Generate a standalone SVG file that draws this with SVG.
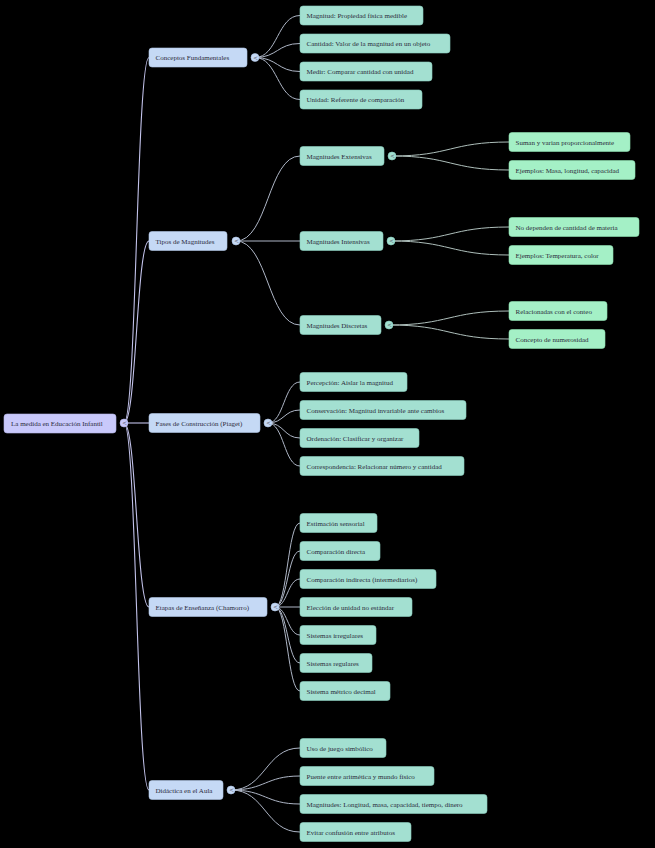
<svg xmlns="http://www.w3.org/2000/svg" width="655" height="848" viewBox="0 0 655 848">
<style>
text{font-family:"Liberation Serif","Times New Roman",serif;font-size:7px;fill:#2b2b3b}
.r0{fill:#c9c9fb;stroke:#b5b5e8;stroke-width:0.6}
.r1{fill:#c5d9f5;stroke:#b0c6e6;stroke-width:0.6}
.r2{fill:#a3e0d1;stroke:#8ccfbf;stroke-width:0.6}
.r3{fill:#a4f0c6;stroke:#8ee0b0;stroke-width:0.6}
.l0{fill:none;stroke:#c2c2ea;stroke-width:1.1}
.l1{fill:none;stroke:#aeb6c6;stroke-width:1}
.l2{fill:none;stroke:#aebfbb;stroke-width:1}
.b text{font-size:6px;fill:#556;font-family:"DejaVu Sans",sans-serif}
</style>
<rect width="655" height="848" fill="#000"/>
<g id="connectors">
<path class="l0" d="M124 423 C136.5 423 136.5 57.5 149 57.5"/>
<path class="l0" d="M124 423 C136.5 423 136.5 241 149 241"/>
<path class="l0" d="M124 423 L149 423"/>
<path class="l0" d="M124 423 C136.5 423 136.5 607 149 607"/>
<path class="l0" d="M124 423 C136.5 423 136.5 790 149 790"/>
<path class="l1" d="M255 57.5 C277.5 57.5 277.5 15.5 300 15.5"/>
<path class="l1" d="M255 57.5 C277.5 57.5 277.5 43.5 300 43.5"/>
<path class="l1" d="M255 57.5 C277.5 57.5 277.5 71.5 300 71.5"/>
<path class="l1" d="M255 57.5 C277.5 57.5 277.5 99.5 300 99.5"/>
<path class="l1" d="M236 241 C268 241 268 156 300 156"/>
<path class="l1" d="M236 241 L300 241"/>
<path class="l1" d="M236 241 C268 241 268 325 300 325"/>
<path class="l2" d="M392 156 C450.5 156 450.5 142 509 142"/>
<path class="l2" d="M392 156 C450.5 156 450.5 170 509 170"/>
<path class="l2" d="M391 241 C450 241 450 227 509 227"/>
<path class="l2" d="M391 241 C450 241 450 255 509 255"/>
<path class="l2" d="M389 325 C449 325 449 311 509 311"/>
<path class="l2" d="M389 325 C449 325 449 339 509 339"/>
<path class="l1" d="M268 423 C284 423 284 382 300 382"/>
<path class="l1" d="M268 423 C284 423 284 410 300 410"/>
<path class="l1" d="M268 423 C284 423 284 438 300 438"/>
<path class="l1" d="M268 423 C284 423 284 466 300 466"/>
<path class="l1" d="M275 607 C287.5 607 287.5 523 300 523"/>
<path class="l1" d="M275 607 C287.5 607 287.5 551 300 551"/>
<path class="l1" d="M275 607 C287.5 607 287.5 579 300 579"/>
<path class="l1" d="M275 607 L300 607"/>
<path class="l1" d="M275 607 C287.5 607 287.5 635 300 635"/>
<path class="l1" d="M275 607 C287.5 607 287.5 663 300 663"/>
<path class="l1" d="M275 607 C287.5 607 287.5 691 300 691"/>
<path class="l1" d="M231 790 C265.5 790 265.5 748 300 748"/>
<path class="l1" d="M231 790 C265.5 790 265.5 776 300 776"/>
<path class="l1" d="M231 790 C265.5 790 265.5 804 300 804"/>
<path class="l1" d="M231 790 C265.5 790 265.5 832 300 832"/>
</g>
<g id="buttons" class="b">
<circle cx="124" cy="423" r="4" class="r0"/><text x="122" y="425.2">&lt;</text>
<circle cx="255" cy="57.5" r="4" class="r1"/><text x="253" y="59.7">&lt;</text>
<circle cx="236" cy="241" r="4" class="r1"/><text x="234" y="243.2">&lt;</text>
<circle cx="268" cy="423" r="4" class="r1"/><text x="266" y="425.2">&lt;</text>
<circle cx="275" cy="607" r="4" class="r1"/><text x="273" y="609.2">&lt;</text>
<circle cx="231" cy="790" r="4" class="r1"/><text x="229" y="792.2">&lt;</text>
<circle cx="392" cy="156" r="4" class="r2"/><text x="390" y="158.2">&lt;</text>
<circle cx="391" cy="241" r="4" class="r2"/><text x="389" y="243.2">&lt;</text>
<circle cx="389" cy="325" r="4" class="r2"/><text x="387" y="327.2">&lt;</text>
</g>
<g id="root"><rect class="r0" x="4" y="414" width="112" height="19" rx="3"/><text x="11" y="425.5">La medida en Educación Infantil</text></g>
<g id="n-conceptos"><rect class="r1" x="149" y="48" width="98" height="19" rx="3"/><text x="155.5" y="60">Conceptos Fundamentales</text></g>
<g id="n-tipos"><rect class="r1" x="149" y="231.5" width="78" height="19" rx="3"/><text x="155.5" y="243.5">Tipos de Magnitudes</text></g>
<g id="n-fases"><rect class="r1" x="149" y="413.5" width="111" height="19" rx="3"/><text x="155.5" y="425.5">Fases de Construcción (Piaget)</text></g>
<g id="n-etapas"><rect class="r1" x="149" y="597.5" width="118" height="19" rx="3"/><text x="155.5" y="609.5">Etapas de Enseñanza (Chamorro)</text></g>
<g id="n-didactica"><rect class="r1" x="149" y="780.5" width="74" height="19" rx="3"/><text x="155.5" y="792.5">Didáctica en el Aula</text></g>
<g id="c1"><rect class="r2" x="300" y="6" width="123" height="19" rx="3"/><text x="306.5" y="18">Magnitud: Propiedad física medible</text></g>
<g id="c2"><rect class="r2" x="300" y="34" width="150" height="19" rx="3"/><text x="306.5" y="46">Cantidad: Valor de la magnitud en un objeto</text></g>
<g id="c3"><rect class="r2" x="300" y="62" width="132" height="19" rx="3"/><text x="306.5" y="74">Medir: Comparar cantidad con unidad</text></g>
<g id="c4"><rect class="r2" x="300" y="90" width="122" height="19" rx="3"/><text x="306.5" y="102">Unidad: Referente de comparación</text></g>
<g id="t1"><rect class="r2" x="300" y="146.5" width="84" height="19" rx="3"/><text x="306.5" y="158.5">Magnitudes Extensivas</text></g>
<g id="t2"><rect class="r2" x="300" y="231.5" width="83" height="19" rx="3"/><text x="306.5" y="243.5">Magnitudes Intensivas</text></g>
<g id="t3"><rect class="r2" x="300" y="315.5" width="81" height="19" rx="3"/><text x="306.5" y="327.5">Magnitudes Discretas</text></g>
<g id="t1a"><rect class="r3" x="509" y="132.5" width="121" height="19" rx="3"/><text x="515.5" y="144.5">Suman y varian proporcionalmente</text></g>
<g id="t1b"><rect class="r3" x="509" y="160.5" width="126" height="19" rx="3"/><text x="515.5" y="172.5">Ejemplos: Masa, longitud, capacidad</text></g>
<g id="t2a"><rect class="r3" x="509" y="217.5" width="130" height="19" rx="3"/><text x="515.5" y="229.5">No dependen de cantidad de materia</text></g>
<g id="t2b"><rect class="r3" x="509" y="245.5" width="104" height="19" rx="3"/><text x="515.5" y="257.5">Ejemplos: Temperatura, color</text></g>
<g id="t3a"><rect class="r3" x="509" y="301.5" width="98" height="19" rx="3"/><text x="515.5" y="313.5">Relacionadas con el conteo</text></g>
<g id="t3b"><rect class="r3" x="509" y="329.5" width="96" height="19" rx="3"/><text x="515.5" y="341.5">Concepto de numerosidad</text></g>
<g id="f1"><rect class="r2" x="300" y="372.5" width="107" height="19" rx="3"/><text x="306.5" y="384.5">Percepción: Aislar la magnitud</text></g>
<g id="f2"><rect class="r2" x="300" y="400.5" width="166" height="19" rx="3"/><text x="306.5" y="412.5">Conservación: Magnitud invariable ante cambios</text></g>
<g id="f3"><rect class="r2" x="300" y="428.5" width="119" height="19" rx="3"/><text x="306.5" y="440.5">Ordenación: Clasificar y organizar</text></g>
<g id="f4"><rect class="r2" x="300" y="456.5" width="164" height="19" rx="3"/><text x="306.5" y="468.5">Correspondencia: Relacionar número y cantidad</text></g>
<g id="e1"><rect class="r2" x="300" y="513.5" width="77" height="19" rx="3"/><text x="306.5" y="525.5">Estimación sensorial</text></g>
<g id="e2"><rect class="r2" x="300" y="541.5" width="80" height="19" rx="3"/><text x="306.5" y="553.5">Comparación directa</text></g>
<g id="e3"><rect class="r2" x="300" y="569.5" width="136" height="19" rx="3"/><text x="306.5" y="581.5">Comparación indirecta (intermediarios)</text></g>
<g id="e4"><rect class="r2" x="300" y="597.5" width="112" height="19" rx="3"/><text x="306.5" y="609.5">Elección de unidad no estándar</text></g>
<g id="e5"><rect class="r2" x="300" y="625.5" width="76" height="19" rx="3"/><text x="306.5" y="637.5">Sistemas irregulares</text></g>
<g id="e6"><rect class="r2" x="300" y="653.5" width="72" height="19" rx="3"/><text x="306.5" y="665.5">Sistemas regulares</text></g>
<g id="e7"><rect class="r2" x="300" y="681.5" width="90" height="19" rx="3"/><text x="306.5" y="693.5">Sistema métrico decimal</text></g>
<g id="d1"><rect class="r2" x="300" y="738.5" width="86" height="19" rx="3"/><text x="306.5" y="750.5">Uso de juego simbólico</text></g>
<g id="d2"><rect class="r2" x="300" y="766.5" width="134" height="19" rx="3"/><text x="306.5" y="778.5">Puente entre aritmética y mundo físico</text></g>
<g id="d3"><rect class="r2" x="300" y="794.5" width="187" height="19" rx="3"/><text x="306.5" y="806.5">Magnitudes: Longitud, masa, capacidad, tiempo, dinero</text></g>
<g id="d4"><rect class="r2" x="300" y="822.5" width="111" height="19" rx="3"/><text x="306.5" y="834.5">Evitar confusión entre atributos</text></g>
</svg>
